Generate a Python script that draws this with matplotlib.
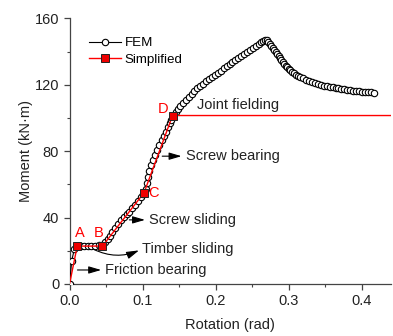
import matplotlib
matplotlib.use("Agg")
import matplotlib.pyplot as plt
from matplotlib.ticker import MultipleLocator, FormatStrFormatter

plt.rcParams["font.family"] = ["Liberation Sans", "DejaVu Sans"]

# FEM moment-rotation curve
fem_rot = [
    0.000, 0.003, 0.0065, 0.011, 0.015, 0.020, 0.025, 0.030, 0.035, 0.040, 0.045,
    0.049, 0.052, 0.055, 0.058, 0.062, 0.066, 0.070, 0.074, 0.078, 0.082, 0.086,
    0.090, 0.094, 0.098, 0.101, 0.104, 0.106, 0.107,
    0.109, 0.111, 0.114, 0.117, 0.120, 0.123, 0.126, 0.129, 0.132, 0.135, 0.137,
    0.139, 0.142, 0.145, 0.148,
    0.151, 0.155, 0.159, 0.163, 0.167, 0.171, 0.175, 0.179, 0.183, 0.187, 0.191,
    0.195, 0.199, 0.203, 0.207, 0.211, 0.215, 0.219, 0.223, 0.227, 0.231, 0.235,
    0.239, 0.243, 0.247, 0.251, 0.255, 0.259, 0.262, 0.265, 0.268,
    0.270, 0.272, 0.274, 0.276, 0.278, 0.280, 0.282, 0.284, 0.286, 0.288, 0.290,
    0.292, 0.294, 0.296, 0.298, 0.300, 0.302, 0.304, 0.307, 0.310, 0.313, 0.316,
    0.320, 0.324, 0.328, 0.332, 0.336, 0.340, 0.344, 0.348, 0.352, 0.356, 0.360,
    0.364, 0.368, 0.372, 0.376, 0.380, 0.384, 0.388, 0.392, 0.396, 0.400, 0.404,
    0.408, 0.412, 0.416,
]
fem_mom = [
    0.0, 14.0, 21.0, 22.6, 22.8, 22.9, 23.0, 23.0, 23.1, 23.2, 23.5,
    25.5, 27.3, 29.0, 31.0, 33.5, 36.0, 38.3, 40.2, 42.0, 43.6, 45.5,
    47.8, 50.2, 52.4, 54.5, 57.5, 61.0, 64.6,
    68.0, 71.5, 74.7, 77.8, 80.7, 83.7, 86.5, 89.0, 91.7, 94.5, 96.8,
    98.8, 101.2, 103.6, 105.3,
    107.0, 109.0, 111.0, 112.9, 114.7, 116.3, 117.9, 119.4, 120.8, 122.1, 123.4,
    124.7, 126.0, 127.3, 128.6, 129.9, 131.2, 132.5, 133.8, 135.0, 136.3, 137.5,
    138.7, 139.9, 141.1, 142.3, 143.5, 144.6, 145.6, 146.4, 147.0,
    146.9, 146.0, 144.8, 143.5, 142.1, 140.7, 139.5, 138.3, 137.1, 135.9, 134.7,
    133.6, 132.5, 131.5, 130.5, 129.6, 128.7, 128.0, 127.0, 126.1, 125.3, 124.6,
    123.9, 123.1, 122.4, 121.8, 121.2, 120.6, 120.1, 119.6, 119.2, 118.8, 118.5,
    118.2, 117.9, 117.6, 117.3, 117.0, 116.7, 116.5, 116.3, 116.1, 115.9, 115.7,
    115.5, 115.4, 115.3,
]

# simplified multi-linear model: O, A, B, C, D, plateau end
simp_rot = [0.0, 0.0105, 0.045, 0.102, 0.141, 0.44]
simp_mom = [0.0, 22.8, 22.8, 55.0, 101.5, 101.5]

fig = plt.figure(figsize=(3.93, 3.36), dpi=100)
ax = fig.add_axes([0.177, 0.155, 0.818, 0.79])

ax.plot(fem_rot, fem_mom, color="black", lw=0.8, marker="o", ms=4.6,
        mfc="white", mec="black", mew=0.8, label="FEM", zorder=3)
ax.plot(simp_rot, simp_mom, color="#ff0000", lw=1.0, marker="s", ms=5.6,
        mfc="#ee0000", mec="#222222", mew=0.7, markevery=[1, 2, 3, 4],
        label="Simplified", zorder=4)

# point labels
red = "#ff0000"
ax.text(0.0135, 30.5, "A", color=red, fontsize=10.5, ha="center", va="center")
ax.text(0.040, 30.5, "B", color=red, fontsize=10.5, ha="center", va="center")
ax.text(0.1075, 55.0, "C", color=red, fontsize=10.5, ha="left", va="center")
ax.text(0.128, 105.5, "D", color=red, fontsize=10.5, ha="center", va="center")

# stage annotations
txt = dict(fontsize=10.5, color="#222222", va="center", ha="left")
arrow = dict(arrowstyle="-|>,head_length=0.75,head_width=0.22", color="black", lw=0.8)
ax.text(0.049, 8.4, "Friction bearing", **txt)
ax.annotate("", xy=(0.047, 8.4), xytext=(0.007, 8.4), arrowprops=arrow)
ax.text(0.0995, 20.9, "Timber sliding", **txt)
ax.annotate("", xy=(0.0985, 20.9), xytext=(0.030, 21.5),
            arrowprops=dict(arrow, connectionstyle="arc3,rad=0.25"))
ax.text(0.109, 38.6, "Screw sliding", **txt)
ax.annotate("", xy=(0.107, 38.6), xytext=(0.078, 38.6), arrowprops=arrow)
ax.text(0.159, 77.0, "Screw bearing", **txt)
ax.annotate("", xy=(0.157, 77.0), xytext=(0.123, 77.0), arrowprops=arrow)
ax.text(0.174, 107.8, "Joint fielding", **txt)

ax.set_xlim(0, 0.44)
ax.set_ylim(0, 160)
ax.xaxis.set_major_locator(MultipleLocator(0.1))
ax.xaxis.set_minor_locator(MultipleLocator(0.05))
ax.xaxis.set_major_formatter(FormatStrFormatter("%.1f"))
ax.yaxis.set_major_locator(MultipleLocator(40))
ax.yaxis.set_minor_locator(MultipleLocator(20))

for side in ("top", "right"):
    ax.spines[side].set_visible(False)
for side in ("left", "bottom"):
    ax.spines[side].set_color("#444444")
    ax.spines[side].set_linewidth(0.9)
ax.tick_params(which="major", direction="out", length=4, width=0.9,
               color="#444444", labelsize=10.5, labelcolor="#222222")
ax.tick_params(which="minor", direction="out", length=2.5, width=0.8,
               color="#444444")

ax.set_xlabel("Rotation (rad)", fontsize=10.5, color="#222222", labelpad=7)
ax.set_ylabel("Moment (kN·m)", fontsize=10.5, color="#222222", labelpad=1)

ax.legend(loc="upper left", bbox_to_anchor=(0.035, 0.96), frameon=False,
          fontsize=9.6, handlelength=2.4, handletextpad=0.3, labelspacing=0.3,
          borderaxespad=0.2)

fig.savefig("out.png", dpi=100)
